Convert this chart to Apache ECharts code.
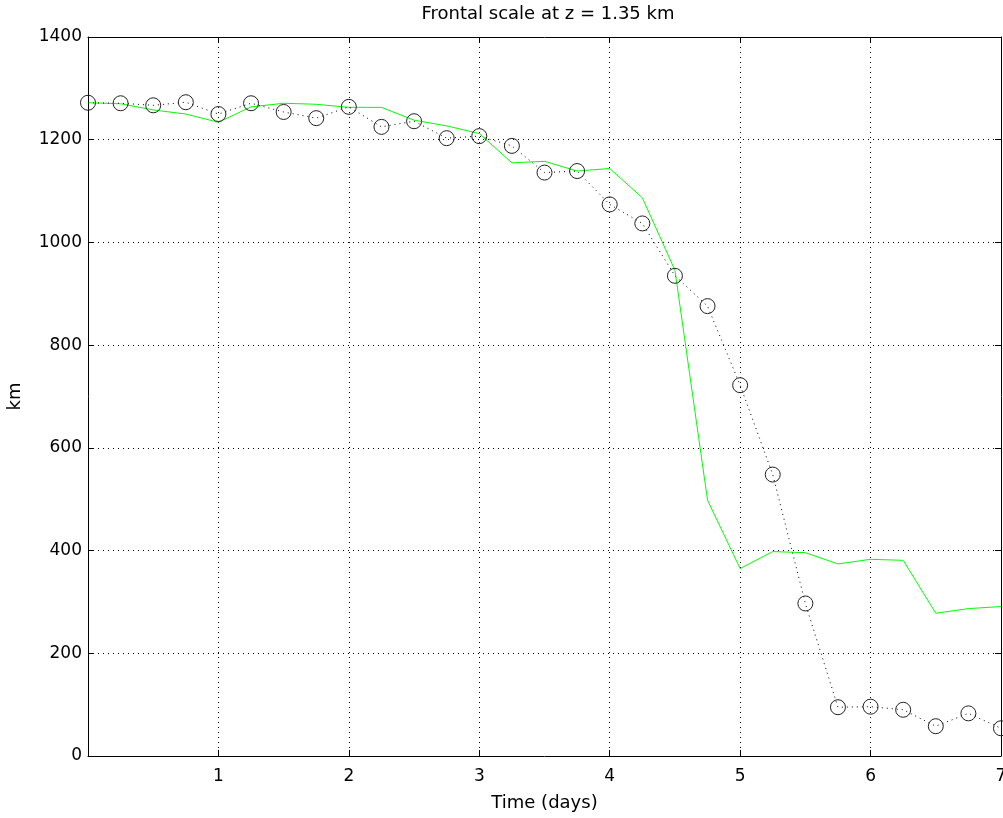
<!DOCTYPE html>
<html><head><meta charset="utf-8">
<script src="https://cdn.jsdelivr.net/npm/echarts@6/dist/echarts.min.js"></script>
<style>html,body{margin:0;padding:0;background:#fff}#c{width:1003px;height:818px}</style>
</head><body><div id="c"></div>
<script>
const times = [0,0.25,0.5,0.75,1,1.25,1.5,1.75,2,2.25,2.5,2.75,3,3.25,3.5,3.75,4,4.25,4.5,4.75,5,5.25,5.5,5.75,6,6.25,6.5,6.75,7];
const blackSeries = [1272,1271,1267,1273,1250,1271,1254,1242,1264,1225,1236,1203,1207,1188,1136,1139,1074,1037,935,876,722,548,297,95,96,90,58,83,54];
const greenSeries = [1272,1270,1258,1250,1234,1264,1271,1269,1263,1263,1238,1227,1212,1155,1158,1139,1144,1087,946,498,365,398,396,374,383,381,278,287,291];
const xTicks = [0,1,2,3,4,5,6,7];
const yTicks = [0,200,400,600,800,1000,1200,1400];
const titleText = 'Frontal scale at z = 1.35 km';
const xLabel = 'Time (days)';
const yLabel = 'km';

const chart = echarts.init(document.getElementById('c'), null, {renderer:'canvas'});
const font = 'DejaVu Sans';
const gridLine = {show:true, lineStyle:{color:'#000', type:[1,4], width:1}};
const axisLine = {show:true, onZero:false, lineStyle:{color:'#000', width:1}};
const tick = {show:true, inside:true, length:6, lineStyle:{color:'#000'}};
chart.setOption({
  animation:false,
  backgroundColor:'#fff',
  title:{text:titleText, left:543, top:0, textAlign:'center',
    textStyle:{fontFamily:font, fontSize:18, fontWeight:'normal', color:'#000'}},
  grid:{left:88, right:2, top:37, bottom:62, containLabel:false, outerBoundsMode:'none'},
  xAxis:[
    {type:'value', min:xTicks[0], max:xTicks[xTicks.length-1], interval:1, position:'bottom',
     name:xLabel, nameLocation:'middle', nameGap:38,
     nameTextStyle:{fontFamily:font, fontSize:18, color:'#000'},
     axisLine:axisLine, axisTick:tick, splitLine:gridLine,
     axisLabel:{fontFamily:font, fontSize:17, color:'#000', margin:12,
       formatter:v=> v===0 ? '' : String(v)}},
    {type:'value', min:xTicks[0], max:xTicks[xTicks.length-1], interval:1, position:'top',
     axisLine:axisLine, axisTick:tick, splitLine:{show:false}, axisLabel:{show:false}}
  ],
  yAxis:[
    {type:'value', min:yTicks[0], max:yTicks[yTicks.length-1], interval:200, position:'left',
     name:yLabel, nameLocation:'middle', nameGap:64, nameRotate:90,
     nameTextStyle:{fontFamily:font, fontSize:18, color:'#000'},
     axisLine:axisLine, axisTick:tick, splitLine:gridLine,
     axisLabel:{fontFamily:font, fontSize:17, color:'#000', margin:6, formatter:v=>String(v)}},
    {type:'value', min:yTicks[0], max:yTicks[yTicks.length-1], interval:200, position:'right',
     axisLine:axisLine, axisTick:tick, splitLine:{show:false}, axisLabel:{show:false}}
  ],
  series:[
    {type:'line', data:times.map((t,i)=>[t,greenSeries[i]]), showSymbol:false, symbol:'none',
     lineStyle:{color:'#00ff00', width:1}, z:2},
    {type:'line', data:times.map((t,i)=>[t,blackSeries[i]]), symbol:'circle', symbolSize:15,
     itemStyle:{color:'rgba(0,0,0,0)', borderColor:'#222', borderWidth:1},
     lineStyle:{color:'#000', width:1, type:[1,4]}, z:3}
  ]
});
</script></body></html>
